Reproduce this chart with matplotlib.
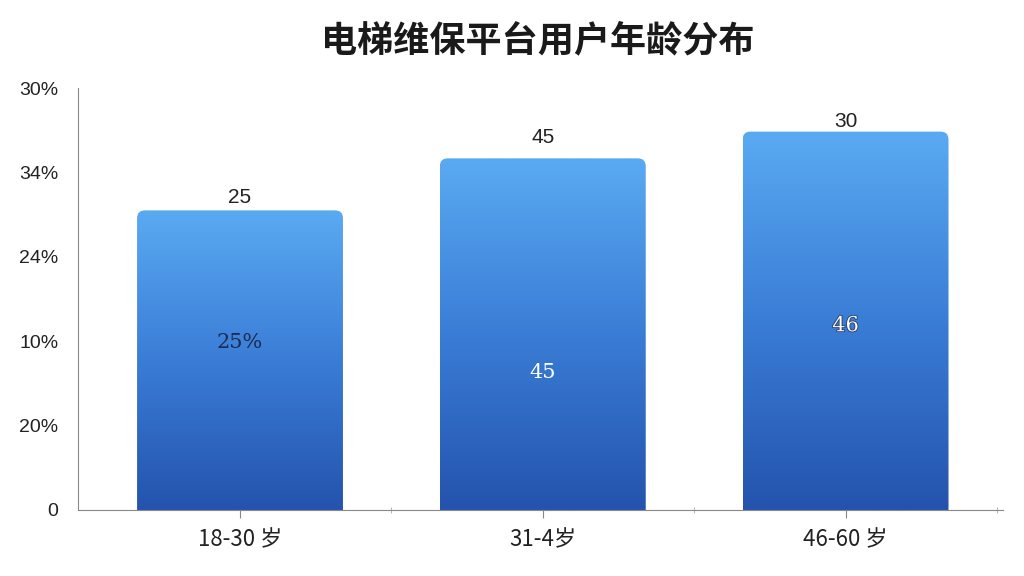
import numpy as np
import matplotlib
matplotlib.use("Agg")
import matplotlib.pyplot as plt
from matplotlib.patches import FancyBboxPatch
from matplotlib.colors import LinearSegmentedColormap
import matplotlib.patheffects as pe

plt.rcParams['font.family'] = ['Noto Sans CJK SC', 'DejaVu Sans']

# data (as drawn in the reference, y in axis units 0..30)
categories = ["18-30 岁", "31-4岁", "46-60 岁"]
heights = [21.3, 25.0, 26.9]
top_labels = ["25", "45", "30"]
inner_labels = ["25%", "45", "46"]
inner_pos = [11.9, 9.8, 13.1]
ytick_vals = [0, 6, 12, 18, 24, 30]
ytick_labels = ["0", "20%", "10%", "24%", "34%", "30%"]
title = "电梯维保平台用户年龄分布"


def main():
    fig = plt.figure(figsize=(10.24, 5.76), dpi=100)
    ax = fig.add_axes([0.0762, 0.1146, 0.9033, 0.7326])

    x = np.arange(len(categories))
    width = 0.68
    ax.set_xlim(-0.535, 2.52)
    ax.set_ylim(0, 30)

    cmap = LinearSegmentedColormap.from_list("bars", ["#2453ad", "#3a7dd6", "#5aaaf2"])
    grad = np.linspace(0, 1, 256).reshape(-1, 1)

    for xi, h in zip(x, heights):
        patch = FancyBboxPatch((xi - width / 2, -2), width, h + 2,
                               boxstyle="round,pad=0,rounding_size=0.026",
                               mutation_aspect=21.6, facecolor="none",
                               edgecolor="none")
        ax.add_patch(patch)
        im = ax.imshow(grad, cmap=cmap, origin="lower", aspect="auto",
                       extent=(xi - width / 2, xi + width / 2, 0, h), zorder=2)
        im.set_clip_path(patch)

    offsets = [9, 15, 7]
    for xi, h, lab, off in zip(x, heights, top_labels, offsets):
        ax.annotate(lab, (xi, h), xytext=(0, off), textcoords="offset points",
                    ha="center", va="center", fontsize=15, color="#222222",
                    family=["Liberation Sans", "DejaVu Sans"], zorder=4)

    colors = ["#1c2b55", "white", "white"]
    for i, (xi, yp, lab) in enumerate(zip(x, inner_pos, inner_labels)):
        t = ax.text(xi, yp, lab, ha="center", va="center", fontsize=15,
                    color=colors[i], family=["DejaVu Serif"], zorder=4)
        if i == 2:
            t.set_path_effects([pe.withStroke(linewidth=1.2, foreground="#2a3a60")])

    ax.set_xticks(x)
    ax.set_xticklabels(categories, fontsize=16, color="#222222")
    ax.set_xticks([0.5, 1.5, 2.5], minor=True)
    ax.tick_params(axis="x", which="major", length=6, color="#888888", pad=7)
    ax.tick_params(axis="x", which="minor", length=4, direction="inout", color="#aaaaaa")

    ax.set_yticks(ytick_vals)
    ax.set_yticklabels(ytick_labels, fontsize=14, color="#222222",
                       family=["Liberation Sans", "DejaVu Sans"])
    ax.tick_params(axis="y", length=0, pad=14)

    for s in ["top", "right"]:
        ax.spines[s].set_visible(False)
    ax.spines["left"].set_color("#888888")
    ax.spines["bottom"].set_color("#888888")

    fig.text(0.525, 0.93, title, ha="center", va="center", fontsize=26,
             fontweight="bold", color="#1a1a1a")

    fig.savefig("out.png", dpi=100)


if __name__ == "__main__":
    main()
